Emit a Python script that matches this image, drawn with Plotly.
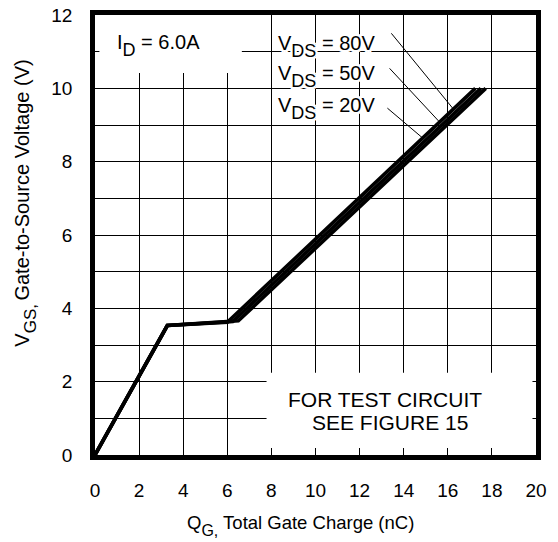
import numpy as np
import plotly.graph_objects as go

# Gate charge curves: Q_G (nC) vs V_GS (V) for I_D = 6.0A
vds_labels = ["80V", "50V", "20V"]
qg_20 = [0.0, 3.28, 6.0, 17.25]
vgs_20 = [0.0, 3.53, 3.62, 10.0]
qg_50 = [0.0, 3.28, 6.25, 17.5]
vgs_50 = [0.0, 3.53, 3.64, 10.0]
qg_80 = [0.0, 3.28, 6.5, 17.72]
vgs_80 = [0.0, 3.53, 3.66, 10.0]

x_ticks = list(range(0, 21, 2))
y_ticks = list(range(0, 13, 2))

FONT = "Liberation Sans, Arial, Helvetica, sans-serif"


def sub(txt, size):
    # deeper, larger subscript than Plotly's default <sub>
    return f"<sub><sub><span style='font-size:{size}px'>{txt}</span></sub></sub>"


fig = go.Figure()
for q, v in [(qg_80, vgs_80), (qg_50, vgs_50), (qg_20, vgs_20)]:
    fig.add_trace(go.Scatter(x=q, y=v, mode="lines",
                             line=dict(color="black", width=3.6),
                             showlegend=False, hoverinfo="skip"))

shapes = [
    # white panels behind the text blocks (cover the grid only)
    dict(type="rect", xref="x", yref="y", x0=0.2, x1=6.66, y0=10.42, y1=12,
         fillcolor="white", line=dict(width=0), layer="between"),
    dict(type="rect", xref="x", yref="y", x0=7.78, x1=19.84, y0=0.19, y1=2.24,
         fillcolor="white", line=dict(width=0), layer="between"),
]

# leader lines from the V_DS labels down to the edge of the curve band
leader_start = {"80V": (13.44, 11.50), "50V": (13.36, 10.545), "20V": (13.26, 9.46)}
leader_v = {"80V": 9.435, "50V": 9.08, "20V": 8.645}
for lab in vds_labels:
    q_end = float(np.interp(leader_v[lab], vgs_20[2:], qg_20[2:]))
    x0, y0 = leader_start[lab]
    shapes.append(dict(type="line", xref="x", yref="y",
                       x0=x0, y0=y0, x1=q_end, y1=leader_v[lab],
                       line=dict(color="black", width=1), layer="above"))

halo = ", ".join(f"{dx}px {dy}px 0 white" for dx in (-2, 0, 2) for dy in (-2, 0, 2)
                 if (dx, dy) != (0, 0))

annotations = [
    dict(x=0.885, y=11.18, xref="x", yref="y", xanchor="left", yanchor="middle",
         text="I" + sub("D", 18) + " = 6.0A", showarrow=False,
         font=dict(family=FONT, size=20, color="black")),
    dict(x=13.13, y=1.527, xref="x", yref="y", xanchor="center", yanchor="middle",
         text="FOR TEST CIRCUIT", showarrow=False,
         font=dict(family=FONT, size=21, color="black")),
    dict(x=13.36, y=0.873, xref="x", yref="y", xanchor="center", yanchor="middle",
         text="SEE FIGURE 15", showarrow=False,
         font=dict(family=FONT, size=21, color="black")),
    # axis titles
    dict(x=-0.158, y=0.572, xref="paper", yref="paper", xanchor="center",
         yanchor="middle", textangle=-90, showarrow=False,
         text="V" + sub("GS,\u2009", 17) + "Gate-to-Source Voltage (V)",
         font=dict(family=FONT, size=20, color="black")),
    dict(x=0.465, y=-0.161, xref="paper", yref="paper", xanchor="center",
         yanchor="middle", showarrow=False,
         text="Q" + sub("G,", 16) + " Total Gate Charge (nC)",
         font=dict(family=FONT, size=18.5, color="black")),
]
label_y = {"80V": 11.13, "50V": 10.31, "20V": 9.44}
for lab in vds_labels:
    annotations.append(dict(x=8.23, y=label_y[lab], xref="x", yref="y",
                            xanchor="left", yanchor="middle",
                            text="V" + sub("DS", 18) + f" = {lab}", showarrow=False,
                            font=dict(family=FONT, size=20, color="black",
                                      shadow=halo)))

fig.update_layout(
    template="none",
    width=558, height=542,
    margin=dict(l=95, r=22, t=15, b=87),
    paper_bgcolor="white", plot_bgcolor="white",
    font=dict(family=FONT, size=19, color="black"),
    shapes=shapes, annotations=annotations,
    showlegend=False,
)
fig.update_xaxes(range=[0, 20], tickvals=x_ticks, ticks="", ticklabelstandoff=14,
                 showgrid=True, gridcolor="black", gridwidth=1.3,
                 showline=True, linecolor="black", linewidth=4.5, mirror=True,
                 zeroline=False, fixedrange=True, automargin=False)
fig.update_yaxes(range=[0, 12], tickvals=y_ticks, ticks="", ticklabelstandoff=14,
                 showgrid=True, gridcolor="black", gridwidth=1.3,
                 minor=dict(dtick=1, showgrid=True, gridcolor="black", gridwidth=1.3),
                 showline=True, linecolor="black", linewidth=4.5, mirror=True,
                 zeroline=False, fixedrange=True, automargin=False)

fig.write_html("out.html")
